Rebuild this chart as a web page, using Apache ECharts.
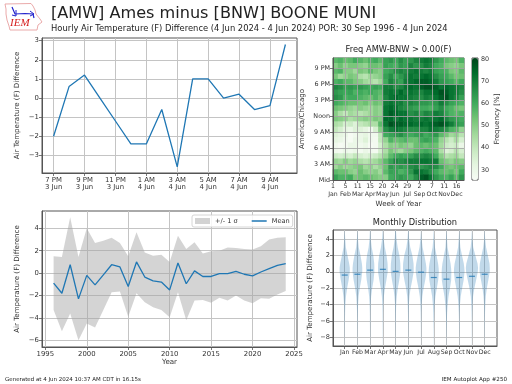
<!DOCTYPE html>
<html><head><meta charset="utf-8">
<style>html,body{margin:0;padding:0;background:#fff}#c{width:512px;height:384px}</style>
<script src="https://cdn.jsdelivr.net/npm/echarts@6/dist/echarts.min.js"></script>
</head><body><div id="c"></div>
<script>
const FONT = 'DejaVu Sans', TXT = '#333', SPINE = '#555', GRID = '#c4c4c4', BLUE = '#1f77b4';

const hourTickLabels = ['7 PM\n3 Jun','9 PM\n3 Jun','11 PM\n3 Jun','1 AM\n4 Jun','3 AM\n4 Jun','5 AM\n4 Jun','7 AM\n4 Jun','9 AM\n4 Jun'];
const hourDiff = [-2,0.6,1.2,0,-1.2,-2.4,-2.4,-0.6,-3.6,1,1,0,0.2,-0.6,-0.4,2.8];

const years = [1996,1997,1998,1999,2000,2001,2002,2003,2004,2005,2006,2007,2008,2009,2010,2011,2012,2013,2014,2015,2016,2017,2018,2019,2020,2021,2022,2023,2024];
const yearMean = [-0.9,-1.8,0.75,-2.3,-0.2,-1.05,-0.15,0.75,0.55,-1.2,1.0,-0.35,-0.7,-0.8,-1.5,0.9,-0.95,0.2,-0.3,-0.3,-0.05,-0.05,0.15,-0.1,-0.25,0.1,0.4,0.7,0.85];
const yearUpper = [1.5,1.45,5.0,1.45,4.0,2.7,2.9,3.15,2.7,1.5,3.65,1.85,1.55,1.65,1.0,3.35,2.15,2.75,1.75,1.95,2.0,2.3,2.25,2.15,2.1,2.4,3.0,3.15,3.2];
const yearLower = [-3.3,-5.2,-3.6,-6.0,-4.5,-4.85,-3.3,-1.7,-1.65,-3.9,-1.8,-2.6,-3.05,-3.3,-3.95,-1.7,-4.2,-2.45,-2.4,-2.65,-2.2,-2.45,-2.0,-2.45,-2.7,-2.25,-2.3,-1.9,-1.6];

const weekTickLabels = ['1\nJan','5\nFeb','11\nMar','15\nApr','20\nMay','24\nJun','29\nJul','2\nSep','7\nOct','11\nNov','16\nDec'];
const hourOfDayLabels = ['Mid','3 AM','6 AM','9 AM','Noon','3 PM','6 PM','9 PM'];
const heatRows = [
[56,58,54,56,60,57,54,58,60,56,62,64,60,66,62,64,68,70,72,70,64,60,56,54,52,58],
[50,54,48,52,52,50,48,54,54,52,62,60,58,64,62,68,64,66,70,68,60,58,52,50,48,52],
[56,58,50,50,46,52,50,56,52,50,60,62,66,68,66,70,72,70,68,70,62,60,58,52,50,56],
[52,46,48,52,50,44,42,46,48,50,62,66,60,64,68,72,70,72,74,72,66,62,60,56,52,54],
[58,60,56,56,52,50,46,44,42,46,60,68,64,62,70,72,74,76,76,74,70,64,62,60,56,60],
[68,66,62,64,62,64,62,60,62,60,70,70,66,68,72,74,72,76,78,78,76,72,74,72,70,68],
[64,62,60,62,58,60,58,60,58,56,70,72,70,74,70,72,70,68,72,72,74,78,76,72,70,66],
[66,64,58,60,60,58,56,54,58,54,68,72,74,72,72,70,68,66,70,68,72,76,78,72,68,62],
[60,58,56,54,54,52,54,50,54,52,70,72,70,70,66,68,66,64,64,62,64,70,66,62,60,58],
[54,52,50,48,46,50,48,46,50,48,72,74,72,68,66,64,62,60,60,58,62,66,60,58,54,52],
[50,44,40,46,44,42,44,46,50,48,72,76,74,72,72,66,68,64,68,66,70,68,62,58,56,58],
[52,50,48,44,46,48,50,48,52,50,74,74,70,74,72,72,70,70,72,70,72,74,68,64,62,60],
[44,42,36,38,34,40,42,44,44,56,72,78,76,76,74,74,72,74,72,74,76,78,74,70,64,62],
[40,36,32,30,34,34,32,28,36,50,66,70,72,70,68,66,66,68,68,72,70,68,64,58,56,48],
[34,32,30,26,28,30,32,28,28,40,60,62,64,66,62,60,62,64,60,62,64,56,52,46,48,42],
[32,30,28,26,30,30,34,28,27,40,48,58,54,56,58,54,54,60,62,60,58,48,42,38,44,36],
[28,26,27,30,30,28,30,26,27,36,44,50,48,52,50,48,54,56,54,56,54,46,38,36,38,30],
[28,27,30,28,30,27,30,28,27,36,44,52,48,46,50,52,56,58,60,58,56,44,34,36,42,36],
[38,36,38,36,40,36,34,36,38,42,48,56,60,62,60,62,66,66,68,66,60,50,42,44,46,40],
[48,46,50,46,48,44,42,44,46,50,56,62,68,66,68,70,70,72,72,70,70,54,50,48,52,50],
[46,50,46,48,50,52,46,48,44,48,54,64,62,64,62,66,68,64,66,68,66,60,54,52,54,56],
[56,54,54,50,48,54,50,48,50,46,56,62,62,58,60,64,72,72,70,66,60,56,54,56,52,60],
[62,58,58,60,52,54,56,54,52,50,50,60,62,64,62,60,66,76,78,72,64,60,58,62,56,64]
];
const greens = ['#f7fcf5','#e5f5e0','#c7e9c0','#a1d99b','#74c476','#41ab5d','#238b45','#006d2c','#00441b'];

const months = ['Jan','Feb','Mar','Apr','May','Jun','Jul','Aug','Sep','Oct','Nov','Dec'];
const monthMean = [-0.4,-0.3,0.2,0.3,0.05,0.2,-0.05,-0.7,-0.9,-0.7,-0.55,-0.3];
const violinLevels = [5,4,3,2,1,0.5,0,-1,-2,-3,-4,-5,-6,-7,-8,-9];
const violinWidths = [
[.01,.04,.09,.22,.35,.40,.40,.31,.19,.10,.05,.03,.02,.015,.01,.005],
[.01,.04,.10,.24,.35,.38,.38,.30,.18,.09,.05,.03,.02,.015,.01,.005],
[.02,.05,.12,.25,.32,.33,.33,.27,.16,.08,.04,.025,.02,.015,.01,.005],
[.02,.06,.15,.29,.37,.38,.38,.28,.16,.08,.04,.025,.02,.015,.01,.005],
[.03,.07,.16,.30,.37,.38,.38,.29,.17,.09,.045,.03,.02,.015,.01,.005],
[.02,.06,.15,.32,.41,.42,.42,.31,.18,.09,.045,.03,.02,.015,.01,.005],
[.01,.05,.12,.26,.38,.42,.42,.33,.20,.10,.05,.03,.02,.015,.01,.005],
[.01,.04,.09,.22,.34,.38,.40,.35,.24,.13,.07,.04,.025,.015,.01,.005],
[.01,.04,.08,.20,.32,.36,.38,.37,.27,.16,.09,.05,.03,.02,.012,.005],
[.01,.04,.09,.22,.36,.40,.42,.35,.23,.12,.06,.035,.02,.015,.01,.005],
[.01,.04,.10,.27,.44,.48,.46,.33,.19,.09,.05,.03,.02,.015,.01,.005],
[.01,.04,.11,.25,.38,.40,.40,.29,.17,.09,.05,.03,.02,.015,.01,.005]
];

const hourTicks = hourTickLabels.map((_, i) => i * 2);
const weekTicks = weekTickLabels.map((_, i) => i * 5);
const hodTicks = hourOfDayLabels.map((_, i) => i * 3);
const heatData = [];
heatRows.forEach((r, ri) => r.forEach((v, ci) => heatData.push([ci, heatRows.length - 1 - ri, v])));

const lbl = {fontFamily: FONT, fontSize: 6.9, color: TXT, margin: 3, lineHeight: 7.6, hideOverlap: false};
const ax = (o) => Object.assign({
  axisLine: {show: true, onZero: false, lineStyle: {color: SPINE, width: 1}},
  axisTick: {show: true, length: 3, lineStyle: {color: SPINE, width: 0.8}},
  splitLine: {show: true, lineStyle: {color: GRID, width: 1}},
  nameTextStyle: {fontFamily: FONT, fontSize: 7.1, color: TXT}
}, o);
const custom = (vals, fmt, size) => ({
  axisLabel: Object.assign({}, lbl, {customValues: vals, formatter: fmt, showMinLabel: true, showMaxLabel: true}, size ? {fontSize: size} : {}),
  axisTick: {show: true, length: 3, customValues: vals, lineStyle: {color: SPINE, width: 0.8}}
});
const num = v => String(v).replace('-', '\u2212');
const boxed = (l, t, w, h) => ({left: l, top: t, width: w, height: h, show: true, borderColor: SPINE, borderWidth: 1, backgroundColor: 'transparent', containLabel: false});
const text = (t, left, top, size, align) => ({text: t, left, top, padding: 0, textAlign: align || 'left', textStyle: {fontFamily: FONT, fontSize: size, fontWeight: 'normal', color: '#222'}});

const option = {
  animation: false,
  backgroundColor: '#fff',
  textStyle: {fontFamily: FONT},
  title: [
    text('[AMW] Ames minus [BNW] BOONE MUNI', 51, 6, 16.1),
    text('Hourly Air Temperature (F) Difference (4 Jun 2024 - 4 Jun 2024) POR: 30 Sep 1996 - 4 Jun 2024', 51, 25, 8.4),
    text('Freq AMW-BNW > 0.00(F)', 398.5, 46, 8.3, 'center'),
    text('Monthly Distribution', 415, 219, 8.3, 'center'),
    text('Generated at 4 Jun 2024 10:37 AM CDT in 16.15s', 5, 376.5, 5.5),
    text('IEM Autoplot App #250', 507, 376.5, 5.6, 'right')
  ],
  grid: [boxed(42, 38, 255, 135), boxed(42, 211, 255, 136), boxed(333, 58, 131, 122), boxed(472, 58, 6, 122), boxed(333, 230, 164, 116)],
  xAxis: [
    ax({gridIndex: 0, type: 'value', min: -0.75, max: 15.75, ...custom(hourTicks, v => hourTickLabels[v / 2])}),
    ax({gridIndex: 1, type: 'value', min: 1994.6, max: 2025.36, name: 'Year', nameLocation: 'middle', nameGap: 11.5, ...custom([1995,2000,2005,2010,2015,2020,2025], v => String(v))}),
    {gridIndex: 2, type: 'category', show: false, data: heatRows[0].map((_, i) => i)},
    ax({gridIndex: 2, type: 'value', position: 'bottom', z: 5, min: 0, max: 53, name: 'Week of Year', nameLocation: 'middle', nameGap: 20.5, ...custom(weekTicks, v => weekTickLabels[v / 5], 6.2), splitLine: {show: true, lineStyle: {color: 'rgba(165,165,165,0.85)', width: 1}}}),
    {gridIndex: 3, type: 'value', min: 0, max: 1, show: false},
    ax({gridIndex: 4, type: 'value', min: 0.08, max: 12.97, ...custom(months.map((_, i) => i + 1), v => months[v - 1], 6.2)})
  ],
  yAxis: [
    ax({gridIndex: 0, type: 'value', min: -3.92, max: 3.14, name: 'Air Temperature (F) Difference', nameLocation: 'middle', nameGap: 21, ...custom([-3,-2,-1,0,1,2,3], num)}),
    ax({gridIndex: 1, type: 'value', min: -6.6, max: 5.55, name: 'Air Temperature (F) Difference', nameLocation: 'middle', nameGap: 21, ...custom([-6,-4,-2,0,2,4], num)}),
    {gridIndex: 2, type: 'category', show: false, data: heatRows.map((_, i) => i)},
    ax({gridIndex: 2, type: 'value', position: 'left', z: 5, min: 0, max: 22.9, name: 'America/Chicago', nameLocation: 'middle', nameGap: 27, ...custom(hodTicks, v => hourOfDayLabels[v / 3], 6.4), splitLine: {show: true, lineStyle: {color: 'rgba(165,165,165,0.85)', width: 1}}}),
    ax({gridIndex: 3, type: 'value', position: 'right', min: 25.5, max: 80.4, name: 'Frequency [%]', nameLocation: 'middle', nameGap: 16, nameRotate: 90, splitLine: {show: false}, axisLine: {show: false}, ...custom([30,40,50,60,70,80], v => String(v), 6.4)}),
    ax({gridIndex: 4, type: 'value', min: -9.06, max: 5.1, name: 'Air Temperature (F) Difference', nameLocation: 'middle', nameGap: 19, ...custom([-8,-6,-4,-2,0,2,4], num, 6.6)})
  ],
  visualMap: {
    type: 'continuous', seriesIndex: 3, min: 25.5, max: 80.4, left: 472, top: 58, itemWidth: 6, itemHeight: 122,
    calculable: false, showLabel: false, text: null, padding: 0, hoverLink: false, inRange: {color: greens}, z: 1
  },
  legend: {
    left: 192, top: 215, padding: [2.5, 3, 2.5, 3], itemGap: 14, itemWidth: 15, itemHeight: 6,
    backgroundColor: 'rgba(255,255,255,0.85)', borderColor: '#ccc', borderWidth: 0.8, borderRadius: 2,
    textStyle: {fontFamily: FONT, fontSize: 6.6, color: TXT},
    data: [{name: '+/- 1 \u03c3', icon: 'rect', itemStyle: {color: '#d3d3d3'}},
           {name: 'Mean', icon: 'path://M0 2.3H15V3.7H0ZM0 0H0V6H0Z', itemStyle: {color: BLUE}}]
  },
  series: [
    {type: 'line', xAxisIndex: 0, yAxisIndex: 0, symbol: 'none', lineStyle: {color: BLUE, width: 1.3},
      data: hourDiff.map((v, i) => [i, v])},
    {type: 'custom', name: '+/- 1 \u03c3', xAxisIndex: 1, yAxisIndex: 1, z: 1, clip: true, itemStyle: {color: '#d3d3d3'},
      data: years.map((y, i) => [y, yearUpper[i], yearLower[i]]),
      renderItem: (p, api) => {
        if (p.dataIndex !== 0) return null;
        const top = years.map((y, i) => api.coord([y, yearUpper[i]]));
        const bot = years.map((y, i) => api.coord([y, yearLower[i]])).reverse();
        return {type: 'polygon', shape: {points: top.concat(bot)}, style: {fill: 'rgba(165,165,165,0.48)', stroke: null}};
      }},
    {type: 'line', name: 'Mean', xAxisIndex: 1, yAxisIndex: 1, z: 3, symbol: 'none', itemStyle: {color: BLUE}, lineStyle: {color: BLUE, width: 1.3},
      data: years.map((y, i) => [y, yearMean[i]])},
    {type: 'heatmap', xAxisIndex: 2, yAxisIndex: 2, z: 2, data: heatData, progressive: 0},
    {type: 'custom', xAxisIndex: 5, yAxisIndex: 5, z: 2, clip: true,
      data: months.map((_, i) => [i + 1]),
      renderItem: (p, api) => {
        const m = p.dataIndex + 1, w = violinWidths[p.dataIndex];
        const right = violinLevels.map((l, i) => api.coord([m + w[i], l]));
        const left = violinLevels.map((l, i) => api.coord([m - w[i], l])).reverse();
        return {type: 'polygon', shape: {points: right.concat(left)}, style: {fill: 'rgba(31,119,180,0.28)', stroke: null}};
      }},
    {type: 'scatter', xAxisIndex: 5, yAxisIndex: 5, z: 3, symbol: 'rect', symbolSize: [6, 1.2], itemStyle: {color: BLUE},
      data: monthMean.map((v, i) => [i + 1, v])},
    {type: 'line', xAxisIndex: 4, yAxisIndex: 4, data: [], silent: true}
  ],
  graphic: [
    {type: 'polygon', z: 10, shape: {points: [[5,4],[31,3.5],[33,6],[35,10],[36,14],[40,19],[42,22],[38,25],[37,30],[10,30],[9,26],[7,20],[6,14],[6,9]]},
      style: {fill: '#fff', stroke: '#e8a0a0', lineWidth: 0.9}},
    {type: 'polyline', z: 11, shape: {points: [[12,7],[15,14],[25,13.5],[33,14],[34,18]]}, style: {stroke: '#2222cc', fill: null, lineWidth: 1.2}},
    {type: 'polyline', z: 11, shape: {points: [[16,10],[16,16],[12,15]]}, style: {stroke: '#2222cc', fill: null, lineWidth: 1}},
    {type: 'polyline', z: 11, shape: {points: [[30,11],[34,14],[30,16]]}, style: {stroke: '#2222cc', fill: null, lineWidth: 1}},
    {type: 'text', z: 12, left: 10, top: 18, style: {text: 'IEM', fill: '#d62020', font: 'italic 11px "Liberation Serif"'}}
  ]
};
const chart = echarts.init(document.getElementById('c'), null, {renderer: 'canvas', width: 512, height: 384});
chart.setOption(option);
</script></body></html>
